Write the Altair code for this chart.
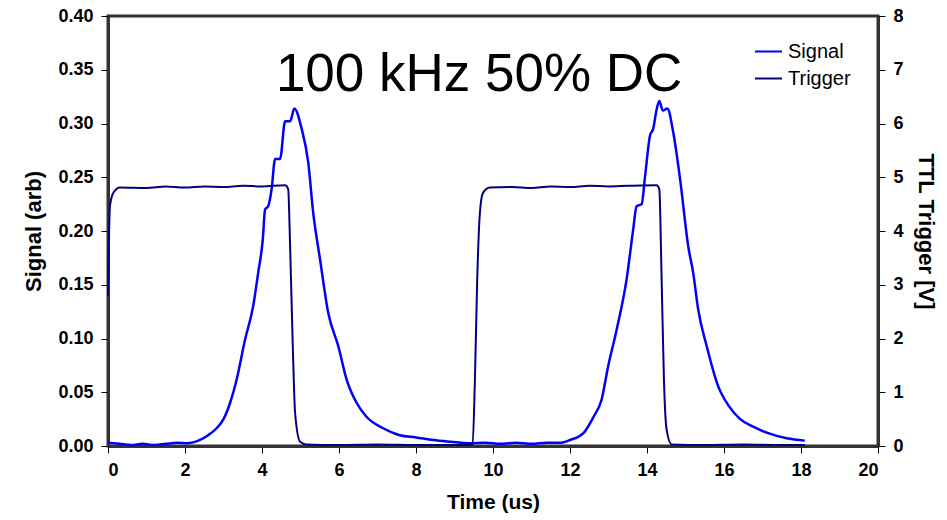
import altair as alt
import pandas as pd

# ---- data ----
sig_t = [0.0, 0.3, 0.6, 0.9, 1.2, 1.5, 1.8, 2.04, 2.39, 2.6, 2.82, 3.0, 3.17, 3.34, 3.56, 3.77,
         3.90, 4.02, 4.08, 4.16, 4.25, 4.34, 4.47, 4.60, 4.73, 4.84, 5.03, 5.20, 5.33, 5.51, 5.72,
         5.98, 6.20, 6.46, 6.72, 7.15, 7.58, 8.0, 8.45, 8.9, 9.40, 9.8, 10.2, 10.6, 11.0, 11.4,
         11.74, 12.0, 12.35, 12.61, 12.82, 12.99, 13.21, 13.47, 13.64, 13.73, 13.86, 13.95, 14.08,
         14.16, 14.25, 14.32, 14.41, 14.53, 14.68, 14.86, 15.07, 15.20, 15.33, 15.55, 15.85, 16.11,
         16.42, 16.76, 17.11, 17.63, 18.10]
sig_v = [0.003, 0.002, 0.001, 0.002, 0.001, 0.002, 0.003, 0.0025, 0.0056, 0.010, 0.0165, 0.025,
         0.040, 0.0616, 0.099, 0.130, 0.161, 0.192, 0.220, 0.223, 0.239, 0.267, 0.267, 0.302, 0.302,
         0.314, 0.295, 0.264, 0.217, 0.173, 0.124, 0.093, 0.0616, 0.040, 0.027, 0.0165, 0.010, 0.008,
         0.0056, 0.004, 0.0025, 0.003, 0.002, 0.003, 0.002, 0.003, 0.003, 0.0056, 0.012, 0.027, 0.043,
         0.074, 0.108, 0.155, 0.201, 0.223, 0.225, 0.251, 0.289, 0.295, 0.313, 0.321, 0.312, 0.314,
         0.292, 0.248, 0.186, 0.161, 0.127, 0.093, 0.0555, 0.038, 0.025, 0.018, 0.0124, 0.0072, 0.005]

trig_t = [0.0, 0.05, 0.14, 0.31, 1.0, 1.5, 2.0, 2.5, 3.0, 3.5, 4.0, 4.60, 4.68, 4.73, 4.80, 4.86,
          4.99, 5.15, 6.0, 7.0, 8.0, 9.0, 9.47, 9.53, 9.59, 9.66, 9.74, 9.92, 10.5, 11.0, 11.5, 12.0,
          12.5, 13.0, 13.5, 14.25, 14.32, 14.38, 14.44, 14.51, 14.64, 15.5, 16.5, 17.5, 18.1]
trig_v = [2.8, 4.46, 4.71, 4.81, 4.80, 4.83, 4.81, 4.83, 4.82, 4.84, 4.83, 4.85, 4.78, 3.72, 1.85,
          0.61, 0.08, 0.03, 0.02, 0.03, 0.02, 0.02, 0.03, 1.23, 3.10, 4.34, 4.71, 4.81, 4.82, 4.80,
          4.83, 4.82, 4.84, 4.83, 4.84, 4.85, 4.78, 3.10, 1.23, 0.30, 0.03, 0.02, 0.03, 0.02, 0.02]

series_names = ["Signal", "Trigger"]
series_colors = ["#0000FF", "#000080"]
x_ticks = list(range(0, 21, 2))
left_ticks = [0.0, 0.05, 0.10, 0.15, 0.20, 0.25, 0.30, 0.35, 0.40]
right_ticks = list(range(0, 9))
title_text = "100 kHz 50% DC"

FONT = "Liberation Sans"

sig_df = pd.DataFrame({"t": sig_t, "v": sig_v, "series": "Signal"})
trig_df = pd.DataFrame({"t": trig_t, "v": trig_v, "series": "Trigger"})

x_enc = alt.X("t:Q", scale=alt.Scale(domain=[0, 20], nice=False),
              axis=alt.Axis(values=x_ticks, title="Time (us)", titleFontSize=21,
                            titlePadding=12))
color_enc = alt.Color(
    "series:N",
    scale=alt.Scale(domain=series_names, range=series_colors),
    legend=alt.Legend(orient="none", legendX=646, legendY=21, title=None,
                      symbolType="stroke", symbolSize=729, symbolStrokeWidth=2,
                      labelFontSize=20, labelFont=FONT, labelFontWeight="normal",
                      rowPadding=2, padding=0, labelOffset=5),
)

sig = alt.Chart(sig_df).mark_line(strokeWidth=2.5, interpolate="monotone").encode(
    x=x_enc,
    y=alt.Y("v:Q", scale=alt.Scale(domain=[0, 0.4], nice=False),
            axis=alt.Axis(values=left_ticks, format=".2f", title="Signal (arb)",
                          titleFontSize=22, titlePadding=12)),
    color=color_enc,
)

trig = alt.Chart(trig_df).mark_line(strokeWidth=2, interpolate="monotone").encode(
    x=x_enc,
    y=alt.Y("v:Q", scale=alt.Scale(domain=[0, 8], nice=False),
            axis=alt.Axis(values=right_ticks, format="d", orient="right",
                          title="TTL Trigger [V]", titleFontSize=22, titlePadding=10)),
    color=color_enc,
)

label = alt.Chart(pd.DataFrame({"txt": [title_text]})).mark_text(
    font=FONT, fontSize=53, fontWeight="normal", color="black",
    align="center", baseline="alphabetic",
).encode(
    x=alt.XDatum(9.64, scale=alt.Scale(domain=[0, 20], nice=False)),
    y=alt.YDatum(0.330, scale=alt.Scale(domain=[0, 0.4], nice=False), axis=None),
    text="txt:N",
)

chart = alt.layer(sig, trig, label).resolve_scale(y="independent").properties(
    width=770, height=430,
    autosize=alt.AutoSizeParams(type="none"),
    padding={"left": 108, "top": 16, "right": 69, "bottom": 74},
    background="white",
).configure_view(
    stroke="#333333", strokeWidth=3,
).configure_axis(
    grid=False,
    labelFont=FONT, labelFontSize=18, labelFontWeight="bold", labelColor="black",
    titleFont=FONT, titleFontWeight="bold", titleColor="black",
    domainColor="#333333", domainWidth=3,
    tickColor="black", tickWidth=1, tickSize=7, labelPadding=8,
)

chart.save("out.html", embed_options={"renderer": "svg", "actions": False})
